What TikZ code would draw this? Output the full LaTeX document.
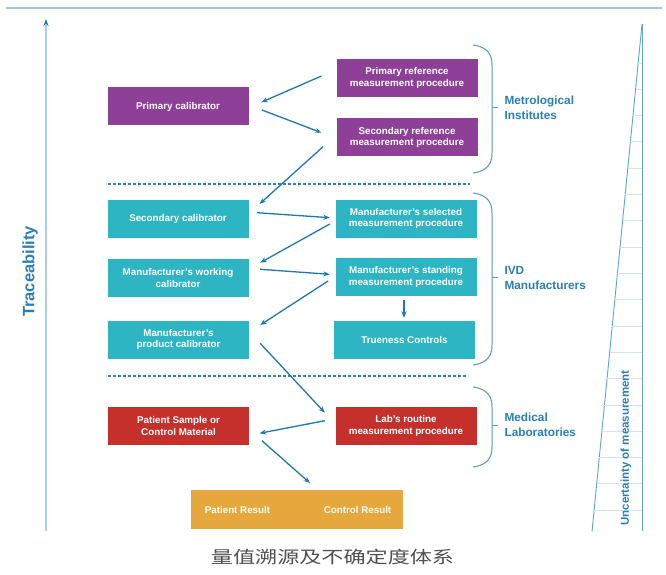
\documentclass[tikz,border=0pt]{standalone}
\usepackage{fontspec}
\usepackage{graphicx}
\setmainfont{Liberation Sans}
\newfontfamily\cjk{Noto Sans CJK SC}
\usetikzlibrary{arrows.meta}
\definecolor{purp}{HTML}{8E3F97}
\definecolor{tealbox}{HTML}{2EB5C4}
\definecolor{redbox}{HTML}{C5302D}
\definecolor{goldbox}{HTML}{E6A83C}
\definecolor{arrc}{HTML}{1F78AE}
\definecolor{labc}{HTML}{2A7FBA}
\definecolor{dashc}{HTML}{2B84B8}
\definecolor{bracec}{HTML}{5B95BF}
\definecolor{axisc}{HTML}{A9D1EF}
\definecolor{topc}{HTML}{9DC7EA}
\definecolor{tric}{HTML}{5AA7D2}
\definecolor{tickc}{HTML}{D5E3EC}
\definecolor{capc}{HTML}{505050}
\begin{document}
\begin{tikzpicture}[x=1pt,y=1pt,
  box/.style={minimum width=141pt, minimum height=38pt, inner sep=0pt, align=center, text=white,
    font=\bfseries\fontsize{9.8}{11.8}\selectfont},
  pbox/.style={box, fill=purp},
  tbox/.style={box, fill=tealbox},
  rbox/.style={box, fill=redbox},
  arr/.style={draw=arrc, line width=1.3pt, -{Stealth[length=6.5pt,width=5pt]}},
  grp/.style={anchor=west, align=left, text=labc, font=\bfseries\fontsize{11.8}{15}\selectfont},
  brace/.style={draw=bracec, line width=1pt},
  dline/.style={draw=dashc, line width=1.1pt, dash pattern=on 3pt off 2pt}
]
\useasboundingbox (0,0) rectangle (666,574);
\fill[white] (0,0) rectangle (666,574);

% top line
\draw[topc, line width=2pt] (6,566) -- (662,566);

% traceability axis
\coordinate (axb) at (46,43);
\coordinate (axt) at (46,555);
\draw[axisc, line width=1.2pt, -{Stealth[length=7pt,width=5pt,color=arrc]}] (axb) -- (axt);
\node[rotate=90, text=labc, font=\bfseries\fontsize{16.5}{16.5}\selectfont] (trace) at (30,302.5) {Traceability};

% uncertainty triangle
\draw[tric, line width=0.9pt] (642,550) -- (642,43);
\draw[tric, line width=0.9pt] (642,550) -- (592,42.5);
\foreach \k in {0,...,17}{
  \pgfmathsetmacro\yy{574-(63+26.3*\k)}
  \pgfmathsetmacro\xx{642-(550-\yy)/507*50}
  \draw[tickc, line width=0.8pt] (\xx,\yy) -- (641.5,\yy);
}
\node[rotate=90, text=labc, font=\bfseries\fontsize{11.5}{11.5}\selectfont] (unc) at (626,126) {Uncertainty of measurement};

% dashed separators
\draw[dline] (108,390) -- (470,390);
\draw[dline] (108,198) -- (468,198);

% boxes
\node[pbox] (pcal) at (178,467.5) {Primary calibrator};
\node[pbox] (pref) at (407,496) {Primary reference\\measurement procedure};
\node[pbox] (sref) at (407,436.5) {Secondary reference\\measurement procedure};
\node[tbox] (scal) at (178,355) {Secondary calibrator};
\node[tbox] (msel) at (406,355.5) {Manufacturer's selected\\measurement procedure};
\node[tbox] (mwork) at (178,296) {Manufacturer's working\\calibrator};
\node[tbox] (mstand) at (406,297) {Manufacturer's standing\\measurement procedure};
\node[tbox] (true) at (404.5,234) {Trueness Controls};
\node[tbox] (mprod) at (178.5,234.5) {Manufacturer's\\product calibrator};
\node[rbox] (psam) at (178.5,148) {Patient Sample or\\Control Material};
\node[rbox] (lab) at (406,148) {Lab's routine\\measurement procedure};
\node[fill=goldbox, minimum width=212pt, minimum height=39pt, inner sep=0pt] (res) at (297,64.5) {};
\node[text=white, font=\bfseries\fontsize{9.8}{11.8}\selectfont] (presult) at (237.5,64.5) {Patient Result};
\node[text=white, font=\bfseries\fontsize{9.8}{11.8}\selectfont] (cresult) at (357.5,64.5) {Control Result};

% arrows
\draw[arr] ([shift={(-14.8,2)}]pref.west) -- ([shift={(12.5,4.2)}]pcal.east);
\draw[arr] ([shift={(13.2,-3.5)}]pcal.east) -- ([shift={(-14.8,4.8)}]sref.west);
\draw[arr] ([shift={(-13.2,-9.2)}]sref.west) -- ([shift={(10.8,15)}]scal.east);
\draw[arr] ([shift={(8.2,6.3)}]scal.east) -- ([shift={(-5.5,0.8)}]msel.west);
\draw[arr] ([shift={(-5.5,-5.5)}]msel.west) -- ([shift={(11.5,15.3)}]mwork.east);
\draw[arr] ([shift={(11.5,8.7)}]mwork.east) -- ([shift={(-5.5,2.7)}]mstand.west);
\draw[arr] ([shift={(-7.2,-4)}]mstand.west) -- ([shift={(11,14.5)}]mprod.east);
\draw[arr] ([shift={(-2,-4)}]mstand.south) -- ([shift={(-0.5,3)}]true.north);
\draw[arr] ([shift={(11,-3.8)}]mprod.east) -- ([shift={(-10.5,13.3)}]lab.west);
\draw[arr] ([shift={(-10.5,5.3)}]lab.west) -- ([shift={(10.3,-7.3)}]psam.east);
\draw[arr] ([shift={(12.7,-14.7)}]psam.east) -- ([shift={(13,6.7)}]res.north);

% braces
\foreach \yt/\yb/\ym in {529/401/466, 381/209/297, 187/107/149}{
  \draw[brace] (473,\yt) .. controls (488,\yt-2) and (492,\yt-10) .. (492,\yt-20)
    -- (492,\yb+20) .. controls (492,\yb+10) and (488,\yb+2) .. (473,\yb);
  \draw[brace] (492,\ym) -- (498,\ym);
}
\node[grp] (gmet) at (501,466) {Metrological\\Institutes};
\node[grp] (givd) at (501,296.5) {IVD\\Manufacturers};
\node[grp] (gmed) at (501,149.5) {Medical\\Laboratories};

% caption
\node[text=capc] (cap) at (332.5,17) {\cjk\fontsize{17}{17}\selectfont\scalebox{1.3}[1]{量值溯源及不确定度体系}};
\end{tikzpicture}
\end{document}
